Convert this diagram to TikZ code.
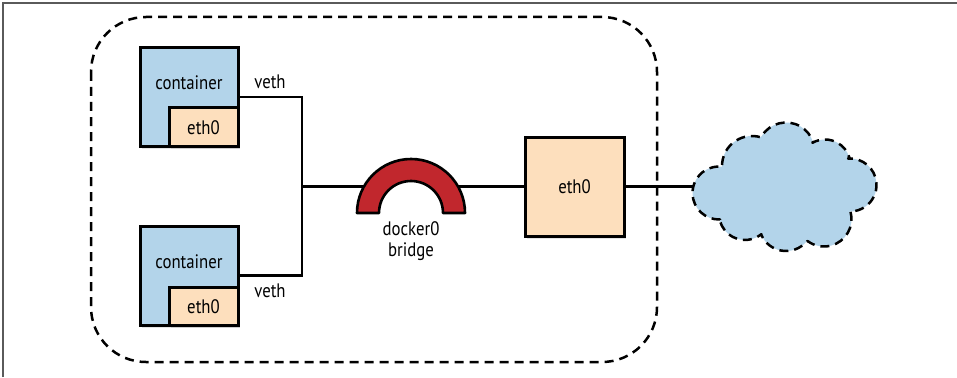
\documentclass[tikz,border=0pt]{standalone}
\usepackage{fontspec}
\setmainfont{PT Sans}[FakeStretch=0.86]
\usetikzlibrary{shadows,calc}
\definecolor{cblue}{HTML}{B3D4EA}
\definecolor{ctan}{HTML}{FDDFBD}
\definecolor{cred}{HTML}{C1272D}
\definecolor{frame}{HTML}{5A5A5A}
\tikzset{
  box/.style={draw=black, line width=3pt, inner sep=0pt,
    drop shadow={opacity=0.22, shadow xshift=2pt, shadow yshift=-3pt}},
  lbl/.style={font=\fontsize{19.5}{21}\selectfont, inner sep=0pt},
  wire/.style={line width=2.1pt},
  dsh/.style={line width=2.5pt, dash pattern=on 9pt off 6pt}
}
\def\cloudpuff#1#2#3#4{let \p1=(#1), \p2=(#3), \p3=(#4),
  \n1={atan2(\y2-\y1,\x2-\x1)}, \n2={atan2(\y3-\y1,\x3-\x1)},
  \n3={mod(\n1-\n2+720,360)} in
  -- ($(#1)+(\n1:#2)$) arc[start angle=\n1, delta angle=-\n3, radius=#2]}
\begin{document}
\begin{tikzpicture}[x=1pt,y=-1pt]
\useasboundingbox (0,0) rectangle (957,377);
\fill[white] (0,0) rectangle (957,377);
% frame
\draw[frame, line width=1.6pt] (3,377) -- (3,3) -- (957,3);
% host boundary
\draw[dsh, rounded corners=55pt] (91,17) rectangle (657,362);
% containers
\node[box, fill=cblue, minimum width=98pt, minimum height=98pt] (c1) at (189,97) {};
\node[lbl] (c1t) at (189,83) {container};
\node[box, fill=ctan, minimum width=69pt, minimum height=38pt, drop shadow={opacity=0}] (e1) at (203.5,127) {};
\node[lbl] (e1t) at (203.5,128) {eth0};
\node[box, fill=cblue, minimum width=98pt, minimum height=99pt] (c2) at (189,275.5) {};
\node[lbl] (c2t) at (189,262) {container};
\node[box, fill=ctan, minimum width=69pt, minimum height=38pt, drop shadow={opacity=0}] (e2) at (203.5,306) {};
\node[lbl] (e2t) at (203.5,307) {eth0};
% host eth0
\node[box, fill=ctan, minimum width=99pt, minimum height=99pt] (eth) at (574.5,186.5) {};
\node[lbl] (etht) at (574.5,187) {eth0};
% wires
\coordinate (j) at (302,186.5);
\coordinate (bl) at (364,186.5);
\coordinate (br) at (458,186.5);
\coordinate (cw) at (700,186.5);
\draw[wire] (c1.east) -| (j) |- (c2.east);
\draw[wire] (j) -- (bl);
\draw[wire] (br) -- (eth.west);
\draw[wire] (eth.east) -- (cw);
% cloud: notches and puff centres
\coordinate (n1) at (722,167);
\coordinate (n2) at (761,136);
\coordinate (n3) at (812,142);
\coordinate (n4) at (848,158);
\coordinate (n5) at (850,212);
\coordinate (n6) at (807,242);
\coordinate (n7) at (762,235);
\coordinate (n8) at (720,220);
\coordinate (p1) at (719,193);
\coordinate (p2) at (752,166);
\coordinate (p3) at (786,151);
\coordinate (p4) at (825,165);
\coordinate (p5) at (850,185);
\coordinate (p6) at (824,219);
\coordinate (p7) at (786,224);
\coordinate (p8) at (745,214);
\draw[dsh, fill=cblue, line join=round]
  (n8) \cloudpuff{p1}{26.5pt}{n8}{n1}
  \cloudpuff{p2}{30pt}{n1}{n2}
  \cloudpuff{p3}{28.5pt}{n2}{n3}
  \cloudpuff{p4}{25.5pt}{n3}{n4}
  \cloudpuff{p5}{26.5pt}{n4}{n5}
  \cloudpuff{p6}{27.5pt}{n5}{n6}
  \cloudpuff{p7}{27pt}{n6}{n7}
  \cloudpuff{p8}{26pt}{n7}{n8} -- cycle;
% bridge
\draw[line width=2.6pt, fill=cred, line join=round]
  (357,213) arc[start angle=180, end angle=0, radius=54pt] -- (443,213)
  arc[start angle=0, end angle=180, radius=32pt] -- cycle;
\node[lbl, align=center] (bt) at (411,241) {docker0\\[0pt]bridge};
% veth labels
\node[lbl] (v1) at (270,82) {veth};
\node[lbl] (v2) at (270,291) {veth};
\end{tikzpicture}
\end{document}
